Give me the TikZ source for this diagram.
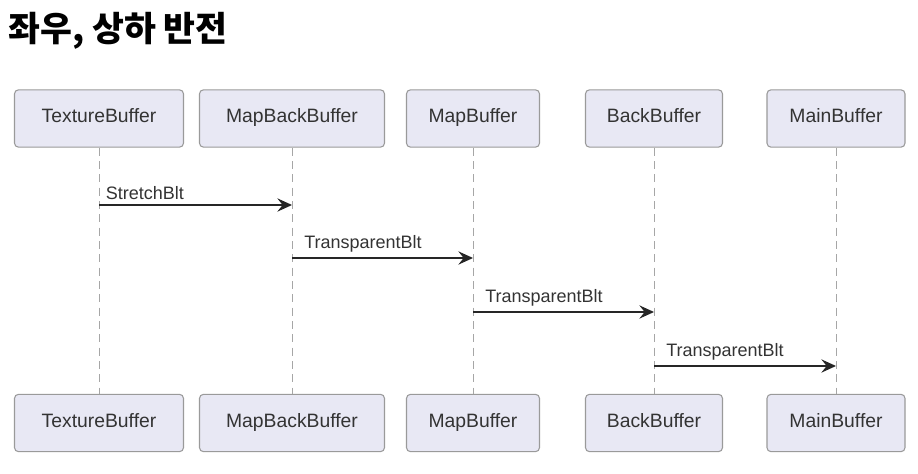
\documentclass[tikz,border=0pt]{standalone}
\usepackage{fontspec}
\setmainfont{Liberation Sans}
\newfontfamily\cjk{Noto Sans CJK KR}
\usetikzlibrary{arrows.meta}
\definecolor{boxfill}{HTML}{E8E8F4}
\definecolor{boxdraw}{HTML}{9A9A9A}
\definecolor{txt}{HTML}{333333}
\begin{document}
\begin{tikzpicture}[x=0.75pt,y=-0.75pt,
  part/.style={draw=boxdraw,fill=boxfill,rounded corners=3pt,line width=0.8pt,minimum height=43pt,inner xsep=6pt,text=txt,text height=1.5ex,text depth=0.3ex,font=\fontsize{14.5}{16}\selectfont},
  life/.style={draw=gray!70,dash pattern=on 6pt off 4pt,line width=0.6pt},
  msg/.style={draw=black!85,line width=1pt,-{Stealth[length=11pt,width=10pt,inset=4pt]}},
  lbl/.style={above right,inner sep=2pt,text=txt,font=\fontsize{13.5}{15}\selectfont}]
\useasboundingbox (0,0) rectangle (918,474);
\node[anchor=north west,inner sep=0pt,font=\cjk\bfseries\fontsize{26}{28}\selectfont] (title) at (8,12) {좌우, 상하 반전};
\foreach \n/\x/\t/\w in {a/99/TextureBuffer/169,b/292/MapBackBuffer/185,c/473/MapBuffer/133,d/654/BackBuffer/137,e/836/MainBuffer/138}{
  \node[part,minimum width=\w*0.75pt] (\n t) at (\x,118.5) {\t};
  \node[part,minimum width=\w*0.75pt] (\n b) at (\x,423) {\t};
  \draw[life] (\n t.south) -- (\n b.north);
}
\coordinate (a1) at (99,205); \coordinate (b1) at (292,205);
\coordinate (b2) at (292,258); \coordinate (c2) at (473,258);
\coordinate (c3) at (473,312); \coordinate (d3) at (654,312);
\coordinate (d4) at (654,366); \coordinate (e4) at (836,366);
\draw[msg] (a1) -- (b1); \node[lbl] at ([xshift=3pt,yshift=2pt]a1) {StretchBlt};
\draw[msg] (b2) -- (c2); \node[lbl] at ([xshift=7pt,yshift=2pt]b2) {TransparentBlt};
\draw[msg] (c3) -- (d3); \node[lbl] at ([xshift=7pt,yshift=2pt]c3) {TransparentBlt};
\draw[msg] (d4) -- (e4); \node[lbl] at ([xshift=7pt,yshift=2pt]d4) {TransparentBlt};
\end{tikzpicture}
\end{document}
